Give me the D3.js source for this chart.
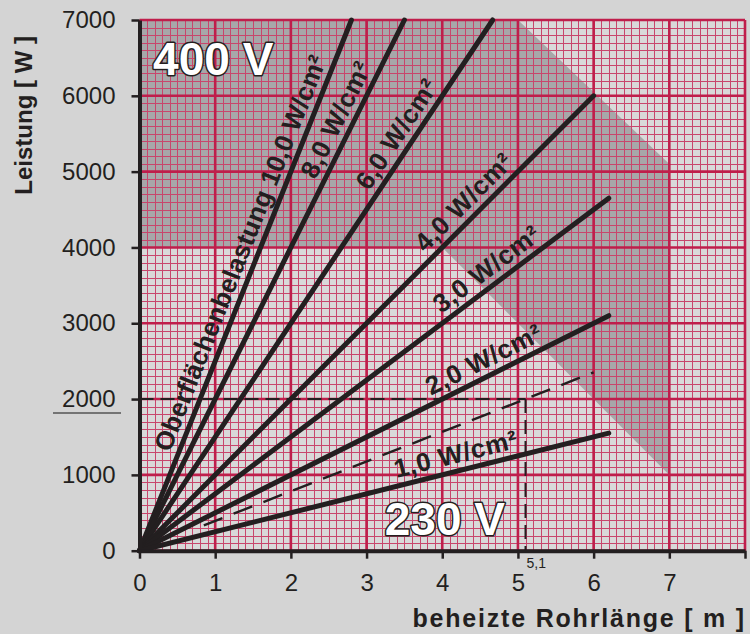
<!DOCTYPE html>
<html>
<head>
<meta charset="utf-8">
<script src="https://cdn.jsdelivr.net/npm/d3@7"></script>
<style>
  html, body { margin: 0; padding: 0; background: #d4d4d4; }
  svg { display: block; font-family: "Liberation Sans", Arial, Helvetica, sans-serif; }
</style>
</head>
<body>
<svg id="chart" width="750" height="634"></svg>
<script>
// Heizleistung je Rohrlänge für verschiedene Oberflächenbelastungen
const loads = [10, 8, 6, 4, 3, 2, 1];                       // W/cm²
const wattPerMeter = [2500, 2000, 1500, 1000, 750, 500, 250];
const lineEndLength = [2.8, 3.5, 4.67, 6.0, 6.2, 6.2, 6.2];  // m
const lineLabels = ["Oberflächenbelastung 10,0 W/cm²", "8,0 W/cm²", "6,0 W/cm²",
  "4,0 W/cm²", "3,0 W/cm²", "2,0 W/cm²", "1,0 W/cm²"];
const labelStart = [0.5, 2.42, 3.12, 3.85, 4.05, 3.9, 3.42];

// 400 V Bereich (dunkel hinterlegt)
const zoneLength = [0, 5.0, 7, 7, 4.0, 0];
const zonePower = [7000, 7000, 5100, 1000, 4000, 4000];

// Ablesebeispiel: 2000 W bei 5,1 m
const exampleLength = 5.1;
const examplePower = 2000;
const exampleRayFrom = 0.85;
const exampleRayTo = 6.0;

const xTicks = [0, 1, 2, 3, 4, 5, 6, 7, 8];
const xTickLabels = ["0", "1", "2", "3", "4", "5", "6", "7", ""];
const yTicks = [0, 1000, 2000, 3000, 4000, 5000, 6000, 7000];
const yTickLabels = ["0", "1000", "2000", "3000", "4000", "5000", "6000", "7000"];

const ink = "#231f20";
const gridMajor = "#bf1e4b";
const gridMinor = "#c8466c";

const svg = d3.select("#chart");

const x = d3.scaleLinear().domain([0, 8]).range([139.5, 745]);
const y = d3.scaleLinear().domain([0, 7000]).range([550.7, 20]);
const crisp = v => Math.round(v) + 0.5;

svg.append("rect")
  .attr("width", 750).attr("height", 634)
  .attr("fill", "#d4d4d4");

// plot background
svg.append("rect")
  .attr("x", x(0)).attr("y", y(7000))
  .attr("width", x(8) - x(0)).attr("height", y(0) - y(7000))
  .attr("fill", "#d9d9d9");

// shaded 400 V zone
svg.append("path")
  .datum(d3.zip(zoneLength, zonePower))
  .attr("d", d3.line().x(d => x(d[0])).y(d => y(d[1])))
  .attr("fill", "#a7a7a9");

// grid
const g = svg.append("g");
const xMinor = d3.range(0, 80.5, 1).map(d => d / 10);
const yMinor = d3.range(0, 70.5, 1).map(d => d * 100);

g.selectAll(".vminor").data(xMinor).enter().append("line")
  .attr("x1", d => crisp(x(d))).attr("x2", d => crisp(x(d)))
  .attr("y1", y(0)).attr("y2", y(7000))
  .attr("stroke", gridMinor).attr("stroke-width", 1);
g.selectAll(".hminor").data(yMinor).enter().append("line")
  .attr("x1", x(0)).attr("x2", x(8))
  .attr("y1", d => crisp(y(d))).attr("y2", d => crisp(y(d)))
  .attr("stroke", gridMinor).attr("stroke-width", 1);
g.selectAll(".vmajor").data(xTicks).enter().append("line")
  .attr("x1", d => x(d)).attr("x2", d => x(d))
  .attr("y1", y(0)).attr("y2", y(7000))
  .attr("stroke", gridMajor).attr("stroke-width", 2.6);
g.selectAll(".hmajor").data(yTicks).enter().append("line")
  .attr("x1", x(0)).attr("x2", x(8))
  .attr("y1", d => y(d)).attr("y2", d => y(d))
  .attr("stroke", gridMajor).attr("stroke-width", 2.6);

// dashed reading lines
svg.append("line")
  .attr("x1", x(0)).attr("x2", x(exampleLength))
  .attr("y1", y(examplePower)).attr("y2", y(examplePower))
  .attr("stroke", ink).attr("stroke-width", 2).attr("stroke-dasharray", "14,7");
svg.append("line")
  .attr("x1", x(exampleLength)).attr("x2", x(exampleLength))
  .attr("y1", y(examplePower)).attr("y2", y(0))
  .attr("stroke", ink).attr("stroke-width", 2).attr("stroke-dasharray", "14,7");
const raySlope = examplePower / exampleLength;
svg.append("line")
  .attr("x1", x(exampleRayFrom)).attr("y1", y(raySlope * exampleRayFrom))
  .attr("x2", x(exampleRayTo)).attr("y2", y(raySlope * exampleRayTo))
  .attr("stroke", ink).attr("stroke-width", 2.4).attr("stroke-dasharray", "20,12");

// load lines
svg.selectAll(".load").data(loads).enter().append("line")
  .attr("x1", x(0)).attr("y1", y(0))
  .attr("x2", (d, i) => x(Math.min(lineEndLength[i], 7000 / wattPerMeter[i])))
  .attr("y2", (d, i) => y(Math.min(lineEndLength[i] * wattPerMeter[i], 7000)))
  .attr("stroke", ink).attr("stroke-width", 5).attr("stroke-linecap", "round");

// line labels
loads.forEach((d, i) => {
  const k = wattPerMeter[i];
  const a = Math.atan2(y(k) - y(0), x(1) - x(0));
  const off = 8;
  const L0 = labelStart[i];
  const px = x(L0) + off * Math.sin(a);
  const py = y(k * L0) - off * Math.cos(a);
  svg.append("text")
    .attr("transform", `translate(${px},${py}) rotate(${a * 180 / Math.PI})`)
    .attr("font-size", 26).attr("font-weight", "bold").attr("fill", ink)
    .attr("letter-spacing", i === 0 ? 0.2 : 0.6)
    .text(lineLabels[i]);
});

// voltage labels
svg.append("text")
  .attr("x", x(0.18)).attr("y", y(6270))
  .attr("font-size", 46).attr("font-weight", "bold")
  .attr("fill", "#fff").attr("stroke", ink).attr("stroke-width", 3)
  .attr("paint-order", "stroke").attr("stroke-linejoin", "round")
  .text("400 V");
svg.append("text")
  .attr("x", x(3.24)).attr("y", y(207))
  .attr("font-size", 46).attr("font-weight", "bold")
  .attr("fill", "#fff").attr("stroke", ink).attr("stroke-width", 3)
  .attr("paint-order", "stroke").attr("stroke-linejoin", "round")
  .text("230 V");

// axes
const yAxis = svg.append("g")
  .attr("transform", `translate(${x(0)},0)`)
  .call(d3.axisLeft(y).tickValues(yTicks).tickFormat((d, i) => yTickLabels[i])
    .tickSize(8).tickSizeOuter(0).tickPadding(16));
const xAxis = svg.append("g")
  .attr("transform", `translate(0,${y(0)})`)
  .call(d3.axisBottom(x).tickValues(xTicks).tickFormat((d, i) => xTickLabels[i])
    .tickSize(8).tickSizeOuter(0).tickPadding(15));

[yAxis, xAxis].forEach(ax => {
  ax.select(".domain").attr("stroke", ink).attr("stroke-width", 4);
  ax.selectAll(".tick line").attr("stroke", ink).attr("stroke-width", 2.5);
  ax.selectAll(".tick text").attr("fill", ink)
    .attr("font-size", 24).attr("font-family", "Liberation Sans, Arial, sans-serif");
});

// underline below 2000
svg.append("line")
  .attr("x1", 53).attr("x2", 121)
  .attr("y1", y(examplePower) + 14).attr("y2", y(examplePower) + 14)
  .attr("stroke", "#555").attr("stroke-width", 1.5);

// 5,1 marker
svg.append("text")
  .attr("x", x(exampleLength) + 1).attr("y", y(0) + 17)
  .attr("font-size", 14).attr("fill", ink)
  .text("5,1");

// axis titles
svg.append("text")
  .attr("transform", `translate(32,${(y(0) + y(7000)) / 2 - 170}) rotate(-90)`)
  .attr("text-anchor", "middle")
  .attr("font-size", 24).attr("font-weight", "bold").attr("fill", ink)
  .text("Leistung [ W ]");
svg.append("text")
  .attr("x", 746).attr("y", 627)
  .attr("text-anchor", "end")
  .attr("font-size", 25).attr("font-weight", "bold").attr("fill", ink)
  .attr("letter-spacing", 1.8)
  .text("beheizte Rohrlänge [ m ]");
</script>
</body>
</html>
